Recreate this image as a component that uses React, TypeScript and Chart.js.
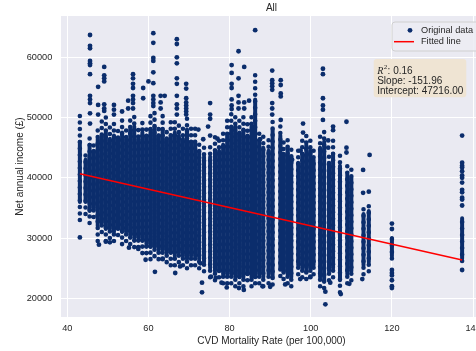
import React, { useEffect, useRef } from 'react';
import { Chart, registerables } from 'chart.js';

Chart.register(...registerables);

const TITLE = 'All';
const X_LABEL = 'CVD Mortality Rate (per 100,000)';
const Y_LABEL = 'Net annual income (£)';
const LEGEND_LABELS = ['Original data', 'Fitted line'];
const STAT_R2 = '0.16';
const STAT_SLOPE = '-151.96';
const STAT_INTERCEPT = '47216.00';

const xTickValues = [40, 60, 80, 100, 120, 140];
const yTickValues = [20000, 30000, 40000, 50000, 60000];
const xRange = [38.45, 142.2];
const yRange = [16900, 66850];

// Vertical stripes of dots: x, full extent (lowest / highest dot) and the packed core
const colX = [43.1, 44.5, 45.5, 46.5, 47.5, 48.5, 49.5, 50.5, 51.5, 52.5, 53.5, 54.5, 55.5, 56.5, 57.5, 58.5, 59.5, 60.5, 61.5, 62.5, 63.5, 64.5, 65.5, 66.5, 67.5, 68.5, 69.5, 70.5, 71.5, 72.5, 73.7, 75.2, 76.4, 77.4, 78.4, 79.4, 80.4, 81.4, 82.4, 83.4, 84.4, 85.4, 86.3, 87.3, 88.3, 89.6, 90.6, 92.5, 93.3, 94.3, 95.2, 96.9, 97.9, 98.9, 99.9, 100.7, 102.3, 103.3, 104.5, 105.5, 107.2, 109.0, 110.0, 113.0, 114.3, 120.0, 137.3];
const colLo = [33000, 34000, 32500, 33500, 29500, 31000, 29500, 30000, 29500, 30500, 29000, 29500, 29000, 28500, 28500, 27500, 27500, 26500, 27000, 26500, 26500, 26000, 25500, 25500, 26000, 25500, 25000, 25500, 25500, 25000, 24500, 23500, 23000, 23500, 22500, 22500, 22500, 22000, 22500, 22000, 23000, 22000, 22500, 22500, 22000, 22500, 22300, 23700, 23200, 22500, 22000, 24000, 23500, 23200, 23500, 24000, 22000, 21700, 23000, 23500, 21000, 22500, 23000, 24000, 24500, 26600, 26200];
const colHi = [51000, 44500, 47500, 46000, 48000, 49500, 50000, 48500, 49500, 48500, 50000, 48500, 50500, 51000, 48500, 50000, 49000, 50500, 51500, 49000, 50500, 48500, 49500, 50000, 49500, 48500, 50000, 48500, 49000, 46500, 45500, 46000, 47000, 46500, 48000, 49500, 51000, 50500, 49500, 50500, 49000, 50500, 58000, 48000, 47000, 46500, 50000, 49500, 46000, 47000, 45500, 44500, 46500, 48000, 46500, 45000, 47000, 48000, 44500, 46500, 44000, 42500, 42000, 35500, 36000, 30300, 33700];
const coreLo = [36000, 36000, 34500, 35000, 32000, 32500, 31500, 31500, 31000, 31500, 31000, 31000, 30500, 30000, 30000, 29500, 29000, 28500, 28500, 28000, 28000, 27500, 27500, 27000, 27500, 27000, 26500, 27000, 27000, 26500, 26000, 25000, 24500, 24500, 24000, 24000, 24000, 23500, 23500, 23500, 24000, 23500, 23500, 24000, 23500, 24000, 23500, 25000, 24500, 24000, 23500, 25500, 25000, 24500, 25000, 25500, 23500, 23000, 24500, 25000, 23000, 24000, 24500, 25500, 26000, 27000, 26600];
const coreHi = [46000, 43000, 45500, 44500, 46500, 47000, 47500, 46500, 47000, 46500, 47500, 46500, 48000, 48500, 46500, 47500, 47000, 48000, 48500, 47000, 48000, 46500, 47000, 47500, 47000, 46500, 48000, 46000, 46000, 44500, 43500, 43500, 44500, 44500, 45500, 47000, 48500, 48500, 47500, 48000, 47000, 48500, 53000, 46000, 45000, 44500, 48000, 47000, 44000, 45000, 43500, 42500, 44000, 45500, 44500, 43000, 45000, 46000, 42500, 44000, 42000, 40500, 40000, 34000, 34500, 30000, 33300];

// Scattered dots outside the stripes (x of the column, its y values)
const sparseX = [45.6, 47.6, 49.1, 51.5, 53.5, 55.0, 56.2, 58.7, 60.0, 61.2, 63.0, 64.0, 67.0, 69.3, 72.3, 73.5, 75.2, 74.7, 77.0, 80.5, 82.2, 83.6, 84.8, 86.3, 87.5, 90.5, 92.6, 95.4, 98.1, 97.5, 103.0, 104.3, 105.5, 108.8, 114.5, 112.9, 114.3,
  43.1, 47.8, 49.5, 50.5, 55.2, 57.5, 59.3, 61.6, 63.5, 66.6, 67.8, 72.8, 73.2, 75.4, 76.6, 78.0, 79.3, 82.3, 83.5, 88.1, 90.0, 93.7, 97.4, 99.9, 103.6, 104.8, 107.4, 109.5, 112.7, 120.0, 137.3];
const sparseY = [
  [63700, 61900, 61500, 59400, 59000, 58700, 57200, 53600, 53000, 52400, 50700, 49000],
  [55100, 52100, 50500],
  [58400, 57000, 56500, 56000, 52200, 51500, 51100],
  [52100, 51300, 50500],
  [51000],
  [52800, 51500],
  [57200, 56500, 55600, 54900, 53600, 53000, 52400, 51500],
  [54900, 53200],
  [56000],
  [64000, 62400, 59900, 59400, 57500, 55700, 53600, 53000, 52400, 51900],
  [53600, 52500, 51500],
  [53600],
  [63000, 62200, 60000, 59000, 56500, 55600, 53600, 52200, 51500, 50500],
  [55600, 54800, 53200, 52500, 52000, 51500, 51000, 50500],
  [48000],
  [46400],
  [52400, 50500, 49800, 47000],
  [48500],
  [46500],
  [58700, 57400, 55600, 54900, 53000, 52000, 51400],
  [61000, 56500, 53600, 52500, 51500],
  [58400, 52500, 51500],
  [52800],
  [64500],
  [46400],
  [57800, 56200, 55700, 55200, 54600, 52400, 51500, 50500],
  [56200, 55400, 54000, 53500, 49600],
  [43000],
  [49000, 47500],
  [44500],
  [58100, 57200, 53200, 52000, 51300, 49600],
  [46200, 45000],
  [48500, 47900],
  [49300, 45000, 44200],
  [43800],
  [41300, 37500],
  [37700],
  [30100],
  [28900],
  [29400],
  [29300],
  [28400],
  [28200],
  [26400],
  [24400],
  [26600],
  [24200],
  [25300],
  [25800],
  [21000, 22600],
  [23600],
  [23400],
  [22600],
  [21800],
  [21700],
  [21400],
  [22000],
  [21900],
  [22300],
  [23200],
  [23600],
  [21100, 19000],
  [22600],
  [20700],
  [22400],
  [23200],
  [32400, 31500, 24700, 24200, 23800, 23000, 22000, 21700],
  [47000, 42500, 42000, 41700, 41100, 40400, 40000, 39200, 38000, 37600, 36700, 36400, 35400, 24700],
];

// Fitted regression line end points
const fitX = [43.1, 137.3];
const fitY = [40666, 26352];

const FONT = "'Liberation Sans', Arial, sans-serif";
const TXT = '#262626';
const NAVY = '#0b2d6c';
const CW = 486;
const CH = 351;

export default function App() {
  const ref = useRef<HTMLCanvasElement>(null);

  useEffect(() => {
    const canvas = ref.current;
    if (!canvas) return;

    const fullData: any[] = [];
    const coreData: any[] = [];
    colX.forEach((x, i) => {
      fullData.push({ x, y: colLo[i] }, { x, y: colHi[i] }, { x, y: null });
      coreData.push({ x, y: coreLo[i] }, { x, y: coreHi[i] }, { x, y: null });
    });
    const ptData: any[] = [];
    sparseX.forEach((x, i) => sparseY[i].forEach((y) => ptData.push({ x, y })));
    const fitData = fitX.map((x, i) => ({ x, y: fitY[i] }));

    const bgPlugin = {
      id: 'bgPlugin',
      beforeDraw(c: any) {
        const { ctx, chartArea: a } = c;
        ctx.save();
        ctx.fillStyle = '#eaeaf2';
        ctx.fillRect(a.left, a.top, a.right - a.left, a.bottom - a.top);
        ctx.restore();
      },
    };

    const rr = (ctx: CanvasRenderingContext2D, x: number, y: number, w: number, h: number, r: number) => {
      ctx.beginPath();
      ctx.moveTo(x + r, y);
      ctx.lineTo(x + w - r, y);
      ctx.arcTo(x + w, y, x + w, y + r, r);
      ctx.lineTo(x + w, y + h - r);
      ctx.arcTo(x + w, y + h, x + w - r, y + h, r);
      ctx.lineTo(x + r, y + h);
      ctx.arcTo(x, y + h, x, y + h - r, r);
      ctx.lineTo(x, y + r);
      ctx.arcTo(x, y, x + r, y, r);
      ctx.closePath();
    };

    const overlayPlugin = {
      id: 'overlayPlugin',
      afterDraw(c: any) {
        const { ctx, chartArea: a } = c;
        ctx.save();
        ctx.fillStyle = TXT;
        ctx.font = `10px ${FONT}`;
        ctx.textAlign = 'center';
        ctx.textBaseline = 'middle';
        ctx.fillText(TITLE, (a.left + a.right) / 2, 8);

        const lx = a.right - 90;
        const ly = a.top + 6;
        rr(ctx, lx, ly, 100, 29, 3);
        ctx.fillStyle = 'rgba(236,236,243,0.85)';
        ctx.fill();
        ctx.strokeStyle = '#d0d0d0';
        ctx.lineWidth = 1;
        ctx.stroke();
        ctx.fillStyle = NAVY;
        ctx.beginPath();
        ctx.arc(lx + 18, ly + 8.3, 2.4, 0, Math.PI * 2);
        ctx.fill();
        ctx.strokeStyle = '#ff0000';
        ctx.lineWidth = 1.5;
        ctx.beginPath();
        ctx.moveTo(lx + 2, ly + 19.7);
        ctx.lineTo(lx + 22, ly + 19.7);
        ctx.stroke();
        ctx.fillStyle = TXT;
        ctx.font = `9.2px ${FONT}`;
        ctx.textAlign = 'left';
        ctx.textBaseline = 'middle';
        ctx.fillText(LEGEND_LABELS[0], lx + 29, ly + 8.3);
        ctx.fillText(LEGEND_LABELS[1], lx + 29, ly + 19.7);

        const bx = a.right - 108.3;
        const by = a.top + 43;
        rr(ctx, bx, by, 92.6, 38.3, 3);
        ctx.fillStyle = '#efe4d3';
        ctx.fill();
        const tx = bx + 3.5;
        ctx.fillStyle = TXT;
        ctx.textBaseline = 'alphabetic';
        ctx.font = `italic 10px 'Liberation Serif', 'DejaVu Serif', serif`;
        ctx.fillText('R', tx, by + 14.5);
        let w = ctx.measureText('R').width;
        ctx.font = `7px 'Liberation Serif', 'DejaVu Serif', serif`;
        ctx.fillText('2', tx + w + 0.5, by + 10);
        w += ctx.measureText('2').width + 0.8;
        ctx.font = `10px ${FONT}`;
        ctx.fillText(': ' + STAT_R2, tx + w, by + 14.5);
        ctx.fillText('Slope: ' + STAT_SLOPE, tx, by + 25.3);
        ctx.fillText('Intercept: ' + STAT_INTERCEPT, tx, by + 35.2);
        ctx.restore();
      },
    };

    const chart = new Chart(canvas, {
      type: 'scatter',
      data: {
        datasets: [
          {
            label: LEGEND_LABELS[1],
            data: fitData,
            showLine: true,
            borderColor: '#ff0000',
            borderWidth: 1.5,
            pointRadius: 0,
            order: 0,
          } as any,
          {
            label: LEGEND_LABELS[0],
            data: ptData,
            backgroundColor: NAVY,
            borderWidth: 0,
            pointRadius: 2.4,
            order: 1,
          },
          {
            label: 'core',
            data: coreData,
            showLine: true,
            borderColor: NAVY,
            borderWidth: 4,
            borderCapStyle: 'round',
            pointRadius: 0,
            pointHoverRadius: 0,
            spanGaps: false,
            order: 2,
          } as any,
          {
            label: 'tails',
            data: fullData,
            showLine: true,
            borderColor: NAVY,
            borderWidth: 4.6,
            borderCapStyle: 'round',
            borderDash: [0, 6.5],
            pointRadius: 0,
            pointHoverRadius: 0,
            spanGaps: false,
            order: 3,
          } as any,
        ],
      },
      options: {
        responsive: false,
        animation: false,
        devicePixelRatio: 1,
        layout: { padding: { top: 16, right: 1, left: 0, bottom: 0 } },
        plugins: {
          legend: { display: false },
          tooltip: { enabled: false },
          title: { display: false },
        },
        scales: {
          x: {
            type: 'linear',
            min: xRange[0],
            max: xRange[1],
            afterBuildTicks: (s: any) => {
              s.ticks = xTickValues.map((v) => ({ value: v }));
            },
            afterFit: (s: any) => {
              s.height = 34;
              s.paddingLeft = 0;
              s.paddingRight = 0;
            },
            grid: { color: '#ffffff', lineWidth: 1, drawTicks: false },
            border: { display: false },
            ticks: {
              padding: 6,
              color: TXT,
              font: { family: FONT, size: 9.2 },
              maxRotation: 0,
              callback: (v: any) => String(v),
            },
            title: {
              display: true,
              text: X_LABEL,
              color: TXT,
              font: { family: FONT, size: 10 },
              padding: { top: 4, bottom: 4 },
            },
          },
          y: {
            type: 'linear',
            min: yRange[0],
            max: yRange[1],
            afterBuildTicks: (s: any) => {
              s.ticks = yTickValues.map((v) => ({ value: v }));
            },
            afterFit: (s: any) => {
              s.width = 61;
              s.paddingTop = 0;
              s.paddingBottom = 0;
            },
            grid: { color: '#ffffff', lineWidth: 1, drawTicks: false },
            border: { display: false },
            ticks: {
              padding: 8.7,
              color: TXT,
              font: { family: FONT, size: 9.2 },
              callback: (v: any) => String(v),
            },
            title: {
              display: true,
              text: Y_LABEL,
              color: TXT,
              font: { family: FONT, size: 10 },
              padding: { top: 14, bottom: 14 },
            },
          },
        },
      } as any,
      plugins: [bgPlugin, overlayPlugin],
    });

    return () => chart.destroy();
  }, []);

  return (
    <div style={{ position: 'fixed', left: 0, top: 0, width: CW, height: CH, overflow: 'hidden', background: '#ffffff' }}>
      <canvas ref={ref} width={CW} height={CH} style={{ width: CW, height: CH, display: 'block' }} />
    </div>
  );
}
